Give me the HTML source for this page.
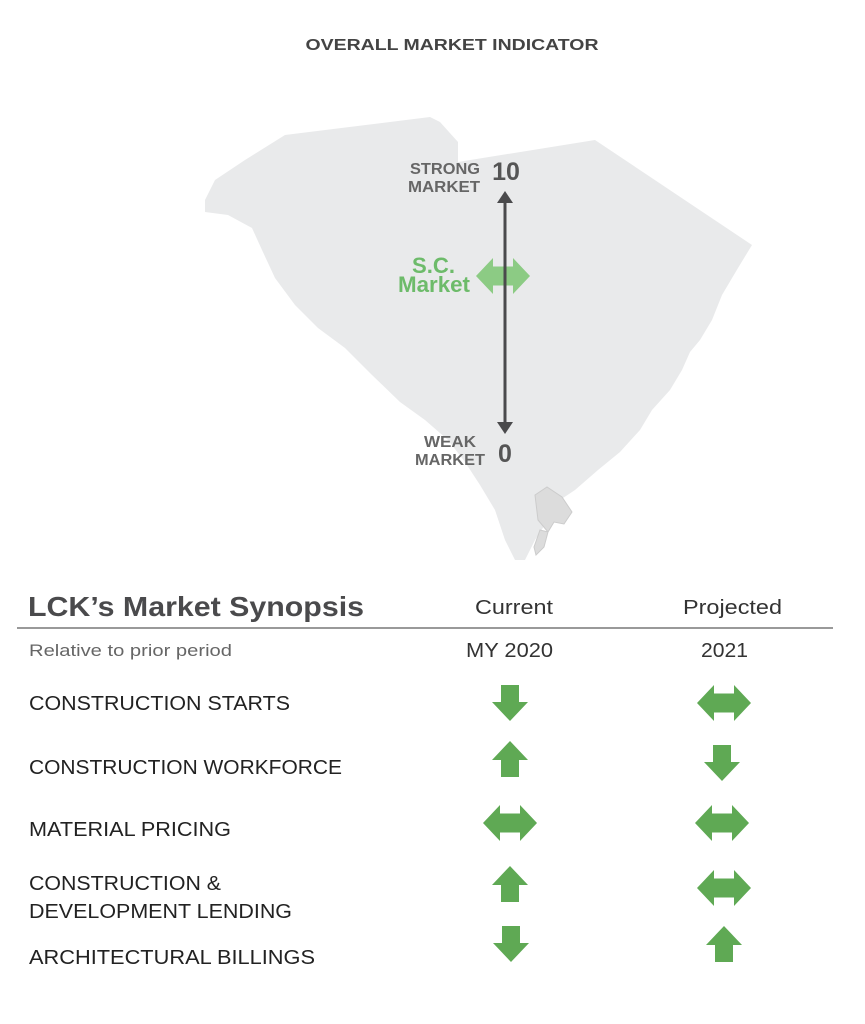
<!DOCTYPE html>
<html><head><meta charset="utf-8"><style>
html,body{margin:0;padding:0;background:#fff;}
svg{display:block;}
text{font-family:"Liberation Sans",sans-serif;}
</style></head><body>
<svg width="865" height="1024" viewBox="0 0 865 1024" xmlns="http://www.w3.org/2000/svg">
<defs>
<g id="dn"><polygon points="-9,0 9,0 9,17 18,17 0,36 -18,17 -9,17"/></g>
<g id="up"><polygon points="-9,36 9,36 9,19 18,19 0,0 -18,19 -9,19"/></g>
<g id="lr"><polygon points="-27,0 -10,-18 -10,-9.5 10,-9.5 10,-18 27,0 10,18 10,9.5 -10,9.5 -10,18"/></g>
</defs>
<text x="452" y="50" text-anchor="middle" font-size="16" font-weight="bold" fill="#444" textLength="293" lengthAdjust="spacingAndGlyphs">OVERALL MARKET INDICATOR</text>
<polygon fill="#e9eaeb" points="205,200 215,180 245,160 285,135 430,117 440,122 458,142 458,162 595,140 752,245 738,268 722,295 712,320 700,340 690,352 682,370 670,390 652,410 640,430 620,452 598,470 575,490 560,500 548,520 535,540 525,560 515,560 505,540 495,510 480,485 465,462 448,440 425,420 400,402 372,375 345,348 318,328 295,305 275,278 262,250 252,228 228,215 205,212"/>
<path d="M535,495 l12,-8 l15,10 l10,15 l-8,12 l-10,-2 l-6,10 l-10,-12z M540,530 l8,2 l-4,15 l-8,8 l-2,-8z" fill="#dcdcdc" stroke="#ccc" stroke-width="1"/>
<line x1="505" y1="200" x2="505" y2="425" stroke="#4a4a4c" stroke-width="3"/>
<polygon points="497,203 513,203 505,191" fill="#4a4a4c"/>
<polygon points="497,422 513,422 505,434" fill="#4a4a4c"/>
<text x="480" y="174" text-anchor="end" font-size="16" font-weight="bold" fill="#666" textLength="70" lengthAdjust="spacingAndGlyphs">STRONG</text>
<text x="480" y="192" text-anchor="end" font-size="16" font-weight="bold" fill="#666" textLength="72" lengthAdjust="spacingAndGlyphs">MARKET</text>
<text x="506" y="180" text-anchor="middle" font-size="25" font-weight="bold" fill="#555">10</text>
<text x="476" y="447" text-anchor="end" font-size="16" font-weight="bold" fill="#666" textLength="52" lengthAdjust="spacingAndGlyphs">WEAK</text>
<text x="485" y="465" text-anchor="end" font-size="16" font-weight="bold" fill="#666" textLength="70" lengthAdjust="spacingAndGlyphs">MARKET</text>
<text x="505" y="462" text-anchor="middle" font-size="25" font-weight="bold" fill="#555">0</text>
<text x="455" y="273" text-anchor="end" font-size="22" font-weight="bold" fill="#6dbb6a" textLength="43" lengthAdjust="spacingAndGlyphs">S.C.</text>
<text x="470" y="292" text-anchor="end" font-size="22" font-weight="bold" fill="#6dbb6a" textLength="72" lengthAdjust="spacingAndGlyphs">Market</text>
<use href="#lr" x="503" y="276" fill="#8ccb84"/>
<line x1="505" y1="258" x2="505" y2="294" stroke="#4a4a4c" stroke-width="3"/>

<text x="28" y="616" font-size="28" font-weight="bold" fill="#4a4a4c" textLength="336" lengthAdjust="spacingAndGlyphs">LCK’s Market Synopsis</text>
<text x="475" y="614" font-size="20" fill="#333" textLength="78" lengthAdjust="spacingAndGlyphs">Current</text>
<text x="683" y="614" font-size="20" fill="#333" textLength="99" lengthAdjust="spacingAndGlyphs">Projected</text>
<line x1="17" y1="628" x2="833" y2="628" stroke="#999" stroke-width="2"/>
<text x="29" y="656" font-size="17" fill="#666" textLength="203" lengthAdjust="spacingAndGlyphs">Relative to prior period</text>
<text x="466" y="657" font-size="20" fill="#333" textLength="87" lengthAdjust="spacingAndGlyphs">MY 2020</text>
<text x="701" y="657" font-size="20" fill="#333" textLength="47" lengthAdjust="spacingAndGlyphs">2021</text>

<g font-size="20" fill="#222">
<text x="29" y="710" textLength="261" lengthAdjust="spacingAndGlyphs">CONSTRUCTION STARTS</text>
<text x="29" y="774" textLength="313" lengthAdjust="spacingAndGlyphs">CONSTRUCTION WORKFORCE</text>
<text x="29" y="836" textLength="202" lengthAdjust="spacingAndGlyphs">MATERIAL PRICING</text>
<text x="29" y="890" textLength="192" lengthAdjust="spacingAndGlyphs">CONSTRUCTION &amp;</text>
<text x="29" y="918" textLength="263" lengthAdjust="spacingAndGlyphs">DEVELOPMENT LENDING</text>
<text x="29" y="964" textLength="286" lengthAdjust="spacingAndGlyphs">ARCHITECTURAL BILLINGS</text>
</g>

<g fill="#5fa954">
<use href="#dn" x="510" y="685"/>
<use href="#lr" x="724" y="703"/>
<use href="#up" x="510" y="741"/>
<use href="#dn" x="722" y="745"/>
<use href="#lr" x="510" y="823"/>
<use href="#lr" x="722" y="823"/>
<use href="#up" x="510" y="866"/>
<use href="#lr" x="724" y="888"/>
<use href="#dn" x="511" y="926"/>
<use href="#up" x="724" y="926"/>
</g>
</svg>
</body></html>
